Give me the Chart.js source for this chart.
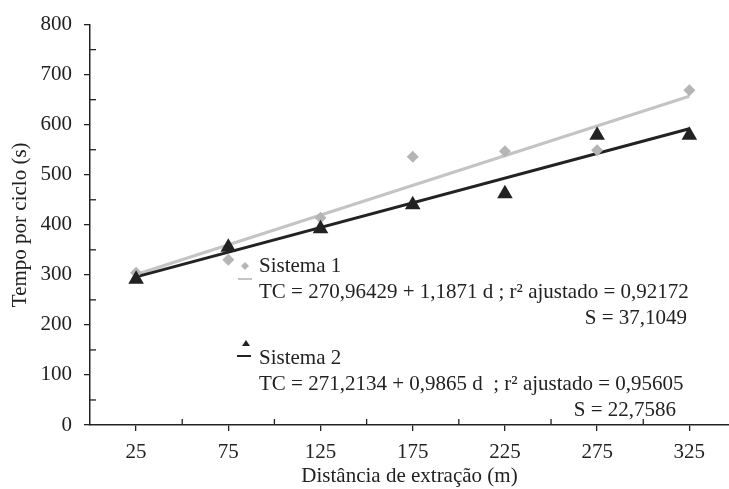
<!DOCTYPE html>
<html>
<head>
<meta charset="utf-8">
<script src="https://cdn.jsdelivr.net/npm/chart.js@4/dist/chart.umd.min.js"></script>
<style>
  html, body { margin: 0; padding: 0; background: #fff; }
  #wrap { width: 729px; height: 489px; }
</style>
</head>
<body>
<div id="wrap"><canvas id="myChart" width="729" height="489"></canvas></div>
<script>
// distances (m)
const distances = [25, 75, 125, 175, 225, 275, 325];
// observed cycle times (s)
const sistema1 = [304, 330, 414, 536, 547, 549, 669];
const sistema2 = [291, 355, 392, 440, 462, 579, 579];
// fitted equations printed on the chart
const fit1 = { a: 270.96429, b: 1.1871 };
const fit2 = { a: 271.2134, b: 0.9865 };
const yTickLabels = [0, 100, 200, 300, 400, 500, 600, 700, 800];

const FONT = "'Liberation Serif', 'Times New Roman', serif";
const INK = '#222222';
const FS = 21;

function points(xs, ys) {
    return xs.map(function (x, i) { return { x: x, y: ys[i] }; });
}

function fitLine(fit) {
    const x0 = distances[0], x1 = distances[distances.length - 1];
    return [{ x: x0, y: fit.a + fit.b * x0 }, { x: x1, y: fit.a + fit.b * x1 }];
}

// inward minor ticks + the text block of the legend
const extras = {
    id: 'extras',
    afterDraw: function (chart) {
        const ctx = chart.ctx;
        const xs = chart.scales.x, ys = chart.scales.y;
        ctx.save();
        ctx.strokeStyle = INK;
        ctx.lineWidth = 1.3;
        // minor ticks on x (pointing up) at 50, 100, ...
        for (let v = 50; v <= 300; v += 50) {
            const px = xs.getPixelForValue(v);
            ctx.beginPath();
            ctx.moveTo(px, ys.bottom);
            ctx.lineTo(px, ys.bottom - 6);
            ctx.stroke();
        }
        // minor ticks on y (pointing right) at 50, 150, ...
        for (let v = 50; v < 800; v += 100) {
            const py = ys.getPixelForValue(v);
            ctx.beginPath();
            ctx.moveTo(xs.left, py);
            ctx.lineTo(xs.left + 6, py);
            ctx.stroke();
        }

        // legend symbols
        ctx.fillStyle = '#b5b5b5';
        ctx.beginPath();
        ctx.moveTo(245, 262); ctx.lineTo(249, 266); ctx.lineTo(245, 270); ctx.lineTo(241, 266);
        ctx.closePath(); ctx.fill();
        ctx.strokeStyle = '#c4c4c4'; ctx.lineWidth = 2;
        ctx.beginPath(); ctx.moveTo(238, 279); ctx.lineTo(252, 279); ctx.stroke();

        ctx.fillStyle = INK;
        ctx.beginPath();
        ctx.moveTo(246, 340); ctx.lineTo(250, 346); ctx.lineTo(242, 346);
        ctx.closePath(); ctx.fill();
        ctx.strokeStyle = INK; ctx.lineWidth = 2;
        ctx.beginPath(); ctx.moveTo(237, 356); ctx.lineTo(251, 356); ctx.stroke();

        // legend text
        ctx.fillStyle = INK;
        ctx.font = FS + 'px ' + FONT;
        ctx.textBaseline = 'middle';
        ctx.textAlign = 'left';
        ctx.fillText('Sistema 1', 259, 266);
        ctx.fillText('TC = 270,96429 + 1,1871 d ; r\u00B2 ajustado = 0,92172', 259, 292);
        ctx.fillText('Sistema 2', 259, 358);
        ctx.fillText('TC = 271,2134 + 0,9865 d  ; r\u00B2 ajustado = 0,95605', 259, 384);
        ctx.textAlign = 'right';
        ctx.fillText('S = 37,1049', 687, 318);
        ctx.fillText('S = 22,7586', 676, 410);
        ctx.restore();
    }
};

const ctx = document.getElementById('myChart').getContext('2d');

const myChart = new Chart(ctx, {
    type: 'scatter',
    data: {
        datasets: [
            {
                label: 'Sistema 1 ajuste',
                type: 'line',
                data: fitLine(fit1),
                borderColor: '#c4c4c4',
                borderWidth: 3,
                pointRadius: 0,
                order: 4
            },
            {
                label: 'Sistema 2 ajuste',
                type: 'line',
                data: fitLine(fit2),
                borderColor: INK,
                borderWidth: 3,
                pointRadius: 0,
                order: 3
            },
            {
                label: 'Sistema 1',
                data: points(distances, sistema1),
                pointStyle: 'rectRot',
                pointRadius: 6,
                backgroundColor: '#b5b5b5',
                borderColor: '#b5b5b5',
                borderWidth: 0,
                order: 2
            },
            {
                label: 'Sistema 2',
                data: points(distances, sistema2),
                pointStyle: 'triangle',
                pointRadius: 9,
                backgroundColor: INK,
                borderColor: INK,
                borderWidth: 0,
                order: 1
            }
        ]
    },
    options: {
        responsive: false,
        animation: false,
        layout: { autoPadding: false, padding: { top: 23, right: 0, left: 0, bottom: 0 } },
        plugins: {
            legend: { display: false },
            tooltip: { enabled: false }
        },
        scales: {
            x: {
                type: 'linear',
                min: 0,
                max: 346.5,
                afterFit: function (s) { s.height = 64; s.paddingRight = 0; },
                border: { color: INK, width: 1.5 },
                grid: {
                    drawOnChartArea: false,
                    tickLength: 6,
                    lineWidth: 1.3,
                    color: function (c) {
                        return (c.tick && distances.indexOf(c.tick.value) >= 0) ? INK : 'rgba(0,0,0,0)';
                    }
                },
                ticks: {
                    stepSize: 25,
                    includeBounds: false,
                    autoSkip: false,
                    maxRotation: 0,
                    padding: 9,
                    color: INK,
                    font: { family: FONT, size: FS },
                    callback: function (v) { return distances.indexOf(v) >= 0 ? String(v) : ''; }
                },
                title: {
                    display: true,
                    text: 'Distância de extração (m)',
                    color: INK,
                    font: { family: FONT, size: FS },
                    padding: { top: 0, bottom: 0 }
                }
            },
            y: {
                min: 0,
                max: 800,
                afterFit: function (s) { s.width = 90; },
                border: { color: INK, width: 1.5 },
                grid: {
                    drawOnChartArea: false,
                    tickLength: 6,
                    lineWidth: 1.3,
                    color: function (c) {
                        return (c.tick && yTickLabels.indexOf(c.tick.value) >= 0) ? INK : 'rgba(0,0,0,0)';
                    }
                },
                ticks: {
                    stepSize: 50,
                    autoSkip: false,
                    padding: 12,
                    color: INK,
                    font: { family: FONT, size: FS },
                    callback: function (v) { return yTickLabels.indexOf(v) >= 0 ? String(v) : ''; }
                },
                title: {
                    display: true,
                    text: 'Tempo por ciclo (s)',
                    color: INK,
                    font: { family: FONT, size: FS },
                    padding: { bottom: 0, top: 8 }
                }
            }
        }
    },
    plugins: [extras]
});
</script>
</body>
</html>
